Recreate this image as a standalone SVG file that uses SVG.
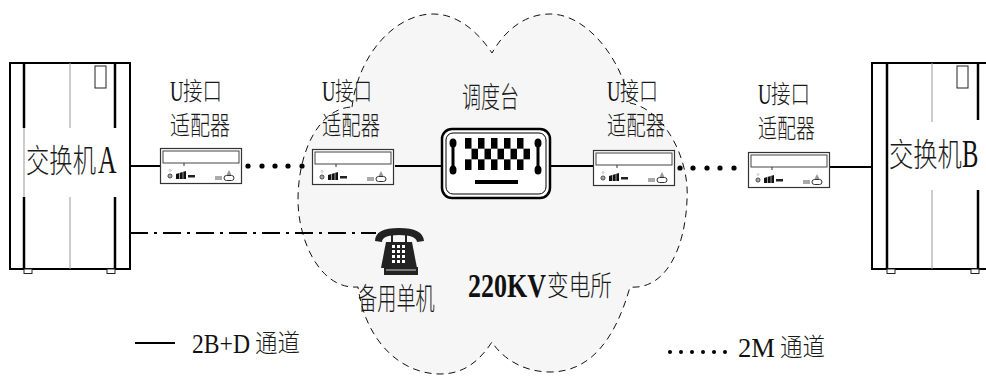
<svg xmlns="http://www.w3.org/2000/svg" xmlns:xlink="http://www.w3.org/1999/xlink" width="986" height="376" viewBox="0 0 986 376">
  <style>
    .t { font-family: "Liberation Serif", "Noto Sans CJK SC", serif; fill: #111; }
    .c { font-family: "Noto Sans CJK SC", sans-serif; fill: #1a1a1a; font-weight: 300; }
    .wire { stroke: #000; stroke-width: 2; fill: none; }
    .frame { fill: #fff; stroke: #000; stroke-width: 2; }
    .rail { stroke: #000; stroke-width: 2.5; }
    .thin { stroke: #999; stroke-width: 1; }
    .dot { fill: #000; }
  </style>
  <defs>
    <!-- front panel of a U-interface adapter, 82 x 36 -->
    <g id="adapterShape">
      <rect x="0.5" y="0.5" width="81" height="35" fill="#fff" stroke="#333" stroke-width="1.2"/>
      <rect x="3" y="3" width="76" height="12" fill="#fff" stroke="#444" stroke-width="1"/>
      <line x1="24" y1="15" x2="24" y2="18" stroke="#333" stroke-width="1"/>
      <circle cx="10" cy="22.5" r="1" fill="none" stroke="#aaa" stroke-width="0.6"/>
      <circle cx="10" cy="28" r="2" fill="#fff" stroke="#333" stroke-width="1"/>
      <circle cx="10" cy="28" r="0.8" fill="#333"/>
      <path d="M16,26 L26,23 L26,31 L16,31 Z" fill="#111"/>
      <line x1="19.5" y1="25" x2="19.5" y2="31" stroke="#fff" stroke-width="0.6"/>
      <line x1="23" y1="24" x2="23" y2="31" stroke="#fff" stroke-width="0.6"/>
      <rect x="28" y="27" width="7" height="2.5" fill="#222"/>
      <rect x="55" y="28" width="7" height="4" fill="#aaa"/>
      <rect x="64" y="27.5" width="10" height="5" rx="2.5" fill="#fff" stroke="#333" stroke-width="1"/>
      <path d="M69,22 L71.5,27 L66.5,27 Z" fill="#999"/>
    </g>
    <pattern id="keys" patternUnits="userSpaceOnUse" x="465" y="138" width="13" height="21.33">
      <rect x="0" y="0" width="6.5" height="10.67" fill="#000"/>
      <rect x="6.5" y="10.67" width="6.5" height="10.67" fill="#000"/>
    </pattern>
  </defs>

  <!-- substation cloud -->
  <g id="substation">
    <path d="M352,107 C358,55 395,14 433,14 C458,14 478,32 492,53 C505,30 525,14 550,14 C585,14 620,55 630,103 C665,110 690,160 687,200 C685,250 665,290 630,287 C615,340 590,372 550,372 C520,372 500,355 492,342 C480,360 465,374 440,374 C400,374 365,340 358,287 C320,290 298,240 298,200 C298,150 320,108 352,107 Z" fill="#f6f6f6" stroke="#111" stroke-width="1" stroke-dasharray="7 5"/>
    <text class="t" transform="translate(468,297) scale(0.788,1)" font-size="33" font-weight="bold">220KV</text>
    <text class="c" transform="translate(547,296) scale(0.774,1)" font-size="28" font-weight="500">变电所</text>
  </g>

  <!-- connectors -->
  <g id="connectors">
    <line class="wire" x1="130" y1="166" x2="160" y2="166"/>
    <line class="wire" x1="395" y1="166" x2="442" y2="166"/>
    <line class="wire" x1="550" y1="166" x2="593" y2="166"/>
    <line class="wire" x1="830" y1="167" x2="872" y2="167"/>
    <line class="wire" x1="130" y1="233" x2="376" y2="233" stroke-dasharray="18 6 3 6"/>
    <g id="link-2m-left">
      <circle class="dot" cx="248" cy="166" r="2.6"/>
      <circle class="dot" cx="262" cy="166" r="2.6"/>
      <circle class="dot" cx="275" cy="166" r="2.6"/>
      <circle class="dot" cx="288" cy="166" r="2.6"/>
      <circle class="dot" cx="302" cy="166" r="2.6"/>
    </g>
    <g id="link-2m-right">
      <circle class="dot" cx="680" cy="168" r="2.6"/>
      <circle class="dot" cx="693" cy="168" r="2.6"/>
      <circle class="dot" cx="707" cy="168" r="2.6"/>
      <circle class="dot" cx="720" cy="168" r="2.6"/>
      <circle class="dot" cx="734" cy="168" r="2.6"/>
    </g>
  </g>

  <!-- exchange A -->
  <g id="switchA">
    <rect class="frame" x="10" y="63" width="120" height="206"/>
    <line class="rail" x1="24" y1="63" x2="24" y2="128"/>
    <line class="rail" x1="24" y1="197" x2="24" y2="269"/>
    <line class="thin" x1="24" y1="128" x2="24" y2="197" stroke="#ccc"/>
    <line class="rail" x1="115" y1="63" x2="115" y2="128"/>
    <line class="rail" x1="115" y1="197" x2="115" y2="269"/>
    <line class="thin" x1="70" y1="63" x2="70" y2="128"/>
    <line class="thin" x1="70" y1="197" x2="70" y2="269"/>
    <rect x="95" y="66" width="11" height="22" fill="#fff" stroke="#222" stroke-width="1"/>
    <rect x="24" y="269" width="8" height="4.5" fill="#fff" stroke="#222" stroke-width="1"/>
    <rect x="107" y="269" width="8" height="4.5" fill="#fff" stroke="#222" stroke-width="1"/>
    <text class="c" transform="translate(26,172) scale(0.729,1)" font-size="32">交换机</text>
    <text class="t" transform="translate(98,173) scale(0.66,1)" font-size="39">A</text>
  </g>

  <!-- exchange B -->
  <g id="switchB">
    <rect class="frame" x="872" y="63" width="120" height="206"/>
    <line class="rail" x1="887" y1="63" x2="887" y2="269"/>
    <line class="rail" x1="978" y1="63" x2="978" y2="120"/>
    <line class="rail" x1="978" y1="190" x2="978" y2="269"/>
    <line class="thin" x1="932" y1="63" x2="932" y2="122"/>
    <line class="thin" x1="932" y1="190" x2="932" y2="269"/>
    <rect x="957" y="66" width="11" height="22" fill="#fff" stroke="#222" stroke-width="1"/>
    <rect x="887" y="269" width="8" height="4.5" fill="#fff" stroke="#222" stroke-width="1"/>
    <rect x="971" y="269" width="8" height="4.5" fill="#fff" stroke="#222" stroke-width="1"/>
    <text class="c" transform="translate(889,166) scale(0.76,1)" font-size="32">交换机</text>
    <text class="t" transform="translate(962,167) scale(0.63,1)" font-size="39">B</text>
  </g>

  <!-- U-interface adapters -->
  <g id="adapter1">
    <use xlink:href="#adapterShape" x="160" y="148"/>
    <text class="t" transform="translate(170,101) scale(0.62,1)" font-size="30">U</text>
    <text class="c" transform="translate(183,100) scale(0.78,1)" font-size="25">接口</text>
    <text class="c" transform="translate(170,135) scale(0.77,1)" font-size="26">适配器</text>
  </g>
  <g id="adapter2">
    <use xlink:href="#adapterShape" x="312" y="149"/>
    <text class="t" transform="translate(322,101) scale(0.62,1)" font-size="30">U</text>
    <text class="c" transform="translate(335,100) scale(0.74,1)" font-size="25">接口</text>
    <text class="c" transform="translate(322,135) scale(0.744,1)" font-size="26">适配器</text>
  </g>
  <g id="adapter3">
    <use xlink:href="#adapterShape" x="593" y="150"/>
    <text class="t" transform="translate(607,101) scale(0.62,1)" font-size="30">U</text>
    <text class="c" transform="translate(620,100) scale(0.76,1)" font-size="25">接口</text>
    <text class="c" transform="translate(607,135) scale(0.744,1)" font-size="26">适配器</text>
  </g>
  <g id="adapter4">
    <use xlink:href="#adapterShape" x="748" y="152"/>
    <text class="t" transform="translate(758,104) scale(0.62,1)" font-size="30">U</text>
    <text class="c" transform="translate(771,103) scale(0.78,1)" font-size="25">接口</text>
    <text class="c" transform="translate(758,138) scale(0.73,1)" font-size="26">适配器</text>
  </g>

  <!-- dispatch console -->
  <g id="console">
    <rect x="442" y="129" width="108" height="69" rx="10" fill="#fff" stroke="#000" stroke-width="2.5"/>
    <rect x="446" y="133" width="100" height="61" rx="7" fill="none" stroke="#000" stroke-width="1"/>
    <g fill="#000">
      <rect x="451.5" y="143" width="3" height="27"/>
      <ellipse cx="453" cy="143" rx="3.5" ry="4.5"/>
      <ellipse cx="453" cy="170" rx="3.5" ry="4.5"/>
      <rect x="536.5" y="143" width="3" height="27"/>
      <ellipse cx="538" cy="143" rx="3.5" ry="4.5"/>
      <ellipse cx="538" cy="170" rx="3.5" ry="4.5"/>
      <rect x="475" y="180" width="43" height="4"/>
    </g>
    <rect x="465" y="138" width="65" height="32" fill="url(#keys)"/>
    <text class="c" transform="translate(462,108) scale(0.655,1)" font-size="29">调度台</text>
  </g>

  <!-- standby telephone -->
  <g id="phone">
    <line x1="392" y1="233" x2="392" y2="242" stroke="#222" stroke-width="2"/>
    <line x1="406" y1="233" x2="406" y2="242" stroke="#222" stroke-width="2"/>
    <path d="M386,242 L412,242 L417,268 L381,268 Z" fill="#222"/>
    <path d="M375,241 Q375,228 399,228 Q423,228 424,241 L417,242 Q416,235 399,235 Q382,235 382,242 Z" fill="#222"/>
    <g fill="#fff">
      <rect x="392" y="245" width="3" height="3"/><rect x="397" y="245" width="3" height="3"/><rect x="402" y="245" width="3" height="3"/>
      <rect x="392" y="250" width="3" height="3"/><rect x="397" y="250" width="3" height="3"/><rect x="402" y="250" width="3" height="3"/>
      <rect x="392" y="255" width="3" height="3"/><rect x="397" y="255" width="3" height="3"/><rect x="402" y="255" width="3" height="3"/>
      <rect x="392" y="260" width="3" height="3"/><rect x="397" y="260" width="3" height="3"/><rect x="402" y="260" width="3" height="3"/>
    </g>
    <rect x="384" y="267" width="34" height="8" fill="#222"/>
    <line x1="386" y1="270" x2="416" y2="270" stroke="#fff" stroke-width="0.8"/>
    <text class="c" transform="translate(358,309) scale(0.64,1)" font-size="30">备用单机</text>
  </g>

  <!-- legend -->
  <g id="legend">
    <line class="wire" x1="135" y1="343" x2="175" y2="343"/>
    <text class="t" transform="translate(192,353) scale(0.844,1)" font-size="28">2B+D</text>
    <text class="c" transform="translate(255,352) scale(0.9,1)" font-size="25">通道</text>
    <circle class="dot" cx="670" cy="352" r="2"/>
    <circle class="dot" cx="681" cy="352" r="2"/>
    <circle class="dot" cx="692" cy="352" r="2"/>
    <circle class="dot" cx="703" cy="352" r="2"/>
    <circle class="dot" cx="714" cy="352" r="2"/>
    <circle class="dot" cx="725" cy="352" r="2"/>
    <text class="t" transform="translate(738,357) scale(0.95,1)" font-size="28">2M</text>
    <text class="c" transform="translate(780,356) scale(0.9,1)" font-size="25">通道</text>
  </g>
</svg>
